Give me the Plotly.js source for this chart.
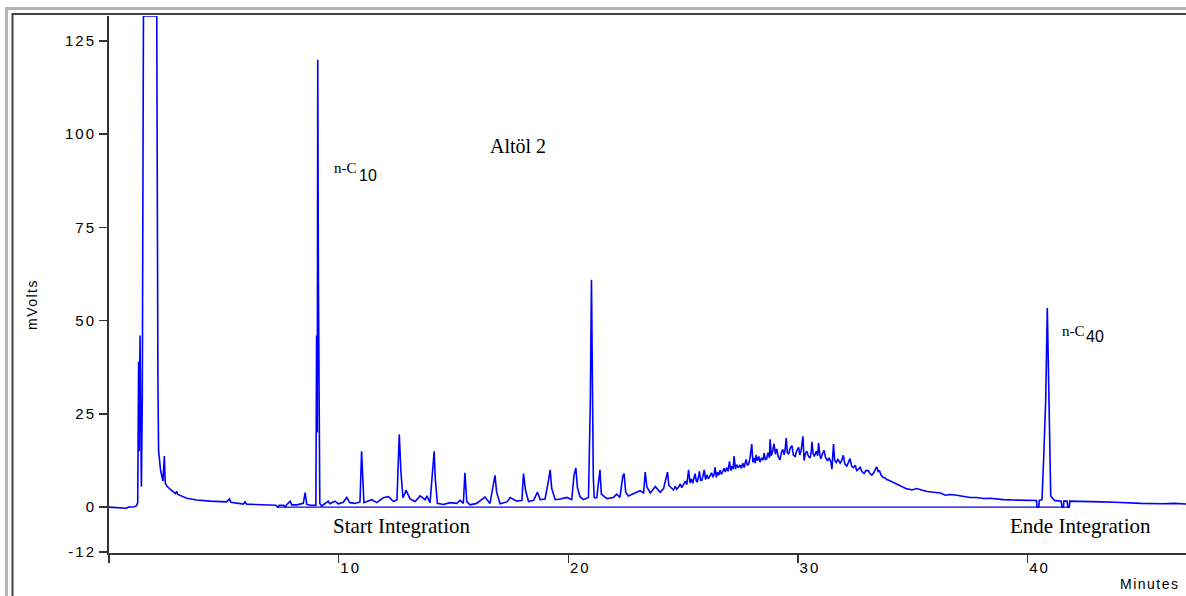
<!DOCTYPE html>
<html>
<head>
<meta charset="utf-8">
<script src="https://cdn.plot.ly/plotly-3.0.1.min.js"></script>
<style>
  html, body { margin: 0; padding: 0; background: #ffffff; }
  #chart { width: 1186px; height: 596px; }
  .xtick text, .ytick text { letter-spacing: 2px; }
</style>
</head>
<body>
<div id="chart"></div>
<script>
// ---- Data: [retention time (min), signal (mV)] ----
const solventRegion = [
  [0.00,0.0],[0.30,-0.1],[0.50,-0.35],[0.75,-0.3],[0.85,0.0],[1.10,0.1],[1.20,0.4],[1.25,1.2],
  [1.29,39],[1.31,15],[1.35,46],[1.38,29],[1.41,5.5],[1.45,29],[1.50,131.7],[2.08,131.7],
  [2.10,39],[2.13,34],[2.16,15],[2.25,9.7],[2.35,7.0],[2.41,13.7],[2.45,6.5],[2.51,5.7],
  [2.66,4.8],[2.90,3.6],[2.95,4.2],[3.00,3.4],[3.38,2.4],[3.82,1.9],[4.40,1.6],[5.12,1.4],
  [5.25,2.2],[5.31,1.3],[5.85,0.8],[5.92,1.4],[6.00,0.8],[6.73,0.6],[7.26,0.5],[7.36,0.0],
  [7.41,0.5],[7.61,0.5],[7.68,0.0],[7.72,0.5],[7.89,1.6],[7.96,0.6],[8.18,0.6],[8.46,1.0],
  [8.54,3.9],[8.61,0.8],[8.76,0.5],[9.01,0.5],[9.04,46],[9.07,20],[9.09,120],[9.12,60],
  [9.15,30],[9.18,1.0],[9.26,0.3]
];
const lightRegion = [
  [9.55,1.6],[9.61,0.9],[9.84,1.6],[9.99,0.9],[10.20,1.3],[10.35,2.6],[10.49,1.2],[10.71,1.0],
  [10.93,1.4],[11.00,15],[11.05,7.5],[11.10,1.2],[11.44,2.0],[11.66,1.2],[11.94,2.5],[12.17,2.8],
  [12.39,1.5],[12.54,2.0],[12.64,19.5],[12.71,9.7],[12.80,2.5],[12.94,4.5],[13.11,2.2],[13.33,1.5],
  [13.55,3.0],[13.77,2.0],[13.84,3.0],[13.98,1.2],[14.16,15],[14.21,7.5],[14.30,1.0],[14.56,0.7],
  [14.85,1.2],[15.14,1.0],[15.29,1.8],[15.43,1.0],[15.50,9.2],[15.58,1.5],[15.72,0.6],[16.01,1.0],
  [16.37,2.7],[16.59,1.0],[16.81,8.5],[16.88,4.0],[17.03,0.9],[17.33,1.4],[17.47,2.6],[17.76,1.6],
  [17.98,1.8],[18.05,9.0],[18.14,4.5],[18.27,1.5],[18.49,1.8],[18.66,4.0],[18.78,2.0],[18.99,2.2],
  [19.14,7.2],[19.21,10.0],[19.28,5.0],[19.43,2.0],[19.65,2.2],[19.94,2.6],[20.15,2.0],[20.25,8.5],
  [20.33,10.5],[20.40,5.2],[20.51,2.8],[20.66,2.0],[20.88,2.6],[20.96,28],[21.01,61],[21.05,31],
  [21.09,8],[21.13,2.5],[21.24,2.5],[21.38,10.0],[21.44,3.5],[21.68,2.3],[21.96,2.6],[22.11,3.5],
  [22.25,2.6],[22.37,8.2],[22.43,9.0],[22.50,4.0],[22.62,3.0],[22.83,3.6],[23.13,4.4],[23.28,3.8],
  [23.35,9.4],[23.42,5.5],[23.57,3.8],[23.79,5.5],[24.00,4.0],[24.15,5.0],[24.32,9.4],[24.38,5.8]
];
const humpRegion = [
  [24.58,4.6],[24.66,5.6],[24.72,4.8],[24.80,5.4],[24.88,6.2],[24.94,5.2],[25.02,6.0],[25.10,7.0],
  [25.16,6.0],[25.19,8.5],[25.24,10.0],[25.30,6.5],[25.36,7.6],[25.42,6.4],[25.48,8.0],[25.52,9.0],
  [25.58,6.9],[25.62,6.8],[25.68,8.4],[25.71,9.6],[25.76,7.2],[25.82,7.2],[25.88,8.8],[25.92,10.0],
  [25.98,7.4],[26.04,8.6],[26.10,7.6],[26.18,8.5],[26.24,9.2],[26.30,8.0],[26.36,9.0],[26.39,10.7],
  [26.45,8.0],[26.50,9.4],[26.56,8.6],[26.61,9.9],[26.67,8.8],[26.72,9.5],[26.78,10.4],[26.84,9.4],
  [26.90,10.6],[26.96,9.6],[27.02,12.3],[27.08,9.8],[27.14,11.0],[27.18,10.2],[27.22,13.7],[27.28,10.2],
  [27.34,11.4],[27.40,10.6],[27.48,11.3],[27.54,10.4],[27.60,11.8],[27.66,10.6],[27.74,12.8],[27.80,11.2],
  [27.86,11.6],[27.92,13.4],[27.99,16.9],[28.04,12.0],[28.10,13.2],[28.14,11.8],[28.18,14.0],[28.24,12.4],
  [28.30,13.6],[28.35,12.1],[28.42,13.2],[28.48,12.6],[28.53,14.5],[28.58,12.8],[28.64,13.0],[28.70,14.6],
  [28.76,13.2],[28.79,18.2],[28.84,13.8],[28.90,15.0],[28.96,17.0],[29.02,14.2],[29.08,15.6],[29.14,13.6],
  [29.22,12.7],[29.28,14.6],[29.34,15.5],[29.40,14.0],[29.44,15.2],[29.49,18.5],[29.54,14.6],[29.60,14.2],
  [29.66,15.8],[29.74,16.5],[29.80,14.0],[29.88,13.5],[29.94,15.0],[30.03,16.0],[30.08,14.0],[30.14,15.2],
  [30.22,19.0],[30.27,12.5],[30.32,14.2],[30.39,15.0],[30.46,13.6],[30.53,13.2],[30.58,14.8],[30.61,17.5],
  [30.66,14.4],[30.71,13.6],[30.76,14.6],[30.80,15.0],[30.86,13.8],[30.90,17.2],[30.96,13.8],[31.00,13.0],
  [31.06,14.2],[31.14,15.2],[31.20,13.4],[31.29,12.4],[31.36,13.2],[31.44,12.0],[31.48,10.2],[31.55,16.9],
  [31.60,12.6],[31.67,12.0],[31.74,12.8],[31.84,11.8],[31.90,12.4],[31.98,13.9],[32.04,11.6],[32.13,11.0],
  [32.20,12.0],[32.27,13.0],[32.34,11.0],[32.42,10.6],[32.50,11.2],[32.56,9.8],[32.64,10.2],[32.71,10.8],
  [32.78,9.6],[32.88,9.0],[32.96,9.8],[33.07,9.8],[33.14,9.0],[33.22,8.6],[33.30,9.2],[33.43,10.8],
  [33.50,9.4],[33.55,9.8],[33.62,8.6],[33.70,8.0],[33.80,7.8],[33.87,7.4],[33.96,7.2],[34.09,6.8],
  [34.20,6.6],[34.31,6.2],[34.42,5.8],[34.52,5.4],[34.62,5.2],[34.74,4.9],[34.86,4.8],[34.96,4.6]
];
const heavyRegion = [
  [35.17,5.0],[35.39,4.6],[35.62,4.2],[35.91,4.0],[36.20,3.8],[36.42,3.2],[36.63,3.4],[36.92,3.2],
  [37.21,2.8],[37.50,2.6],[37.79,2.6],[38.08,2.3],[38.37,2.4],[38.66,2.2],[38.95,2.0],[39.39,1.9],
  [39.97,1.8],[40.39,1.8],[40.41,0.0],[40.49,0.0],[40.51,1.8],[40.63,2.0],[40.71,14.4],[40.79,28.6],
  [40.86,53.4],[40.91,37.3],[40.97,19.6],[41.01,3.0],[41.17,1.8],[41.46,1.6],[41.50,0.0],[41.56,0.0],
  [41.58,1.6],[41.72,1.6],[41.76,0.0],[41.82,0.0],[41.84,1.6],[42.06,1.6],[42.64,1.5],[43.22,1.4],
  [43.80,1.3],[44.38,1.1],[44.96,1.0],[45.83,0.9],[46.41,1.0],[46.96,0.8]
];

// integration baseline (start / end events, minutes) drawn at 0 mV
const integrationTimes = [7.30, 41.77];
const integrationLevel = [0, 0];

// axis ticks
const xTickVals = [0, 10, 20, 30, 40];
const xTickText = ['', '10', '20', '30', '40'];
const yTickVals = [-12, 0, 25, 50, 75, 100, 125];
const yTickText = ['-12', '0', '25', '50', '75', '100', '125'];

// labels
const sampleName = 'Altöl 2';
const startLabel = 'Start Integration';
const endLabel = 'Ende Integration';
const peakLabels = [
  {t: 10.28, v: 90.9, prefix: 'n-C', sub: '10', subT: 11.26, subV: 89.0},
  {t: 42.01, v: 47.2, prefix: 'n-C', sub: '40', subT: 42.94, subV: 45.8}
];

// ---- assemble series ----
const allSamples = solventRegion.concat(lightRegion, humpRegion, heavyRegion);
const timeMin = allSamples.map(p => p[0]);
const signalMV = allSamples.map(p => p[1]);

// ---- layout helpers (pixel -> paper) ----
const W = 1186, H = 596, ML = 109, MT = 16, MB = 43;
const px = x => (x - ML) / (W - ML);
const py = y => (H - MB - y) / (H - MB - MT);

const serif = 'Liberation Serif, Times New Roman, serif';
const sans = 'Liberation Sans, Arial, sans-serif';

const traces = [
  {
    x: integrationTimes, y: integrationLevel, type: 'scatter', mode: 'lines',
    line: {color: '#0000ff', width: 1.2}, hoverinfo: 'skip', showlegend: false
  },
  {
    x: timeMin, y: signalMV, type: 'scatter', mode: 'lines',
    line: {color: '#0000ff', width: 1.6, shape: 'linear'}, showlegend: false
  }
];

const annotations = [
  {x: 17.83, y: 96.8, text: sampleName, showarrow: false, font: {family: serif, size: 20, color: '#000'}},
  {x: 12.78, y: -5.15, text: startLabel, showarrow: false, font: {family: serif, size: 21, color: '#000'}},
  {x: 42.31, y: -5.15, text: endLabel, showarrow: false, font: {family: serif, size: 21, color: '#000'}},
  {xref: 'paper', yref: 'paper', x: px(1182), y: py(584), xanchor: 'right', yanchor: 'middle',
   text: '<span style="letter-spacing:1.5px">Minutes</span>', showarrow: false, font: {family: sans, size: 14, color: '#000'}},
  {xref: 'paper', yref: 'paper', x: px(32), y: py(305), xanchor: 'center', yanchor: 'middle', textangle: -90,
   text: '<span style="letter-spacing:1.5px">mVolts</span>', showarrow: false, font: {family: sans, size: 14, color: '#000'}}
];
peakLabels.forEach(p => {
  annotations.push({x: p.t, y: p.v, text: p.prefix, showarrow: false, font: {family: serif, size: 15, color: '#000'}});
  annotations.push({x: p.subT, y: p.subV, text: p.sub, showarrow: false, font: {family: sans, size: 16, color: '#000'}});
});

const frameShapes = [
  {type: 'line', xref: 'paper', yref: 'paper', x0: px(5), x1: px(1186), y0: py(8.5), y1: py(8.5), line: {color: '#b4b4b4', width: 3}},
  {type: 'line', xref: 'paper', yref: 'paper', x0: px(6.5), x1: px(6.5), y0: py(7), y1: py(596), line: {color: '#b4b4b4', width: 3}},
  {type: 'line', xref: 'paper', yref: 'paper', x0: px(12), x1: px(1186), y0: py(14), y1: py(14), line: {color: '#404040', width: 2}},
  {type: 'line', xref: 'paper', yref: 'paper', x0: px(12.5), x1: px(12.5), y0: py(13), y1: py(596), line: {color: '#404040', width: 2}}
];

const layout = {
  width: W, height: H,
  margin: {l: ML, r: 0, t: MT, b: MB, pad: 0},
  paper_bgcolor: '#ffffff', plot_bgcolor: '#ffffff',
  showlegend: false,
  xaxis: {
    range: [0, 46.9], showgrid: false, zeroline: false,
    showline: true, linecolor: '#333333', linewidth: 2,
    ticks: 'outside', ticklen: 8, tickwidth: 1.5, tickcolor: '#333333',
    tickvals: xTickVals, ticktext: xTickText, ticklabelshift: 12, ticklabelstandoff: -8,
    tickfont: {family: sans, size: 15, color: '#000'}
  },
  yaxis: {
    range: [-12.3, 131.7], showgrid: false, zeroline: false,
    showline: true, linecolor: '#333333', linewidth: 2,
    ticks: 'outside', ticklen: 8, tickwidth: 1.5, tickcolor: '#333333',
    tickvals: yTickVals, ticktext: yTickText,
    tickfont: {family: sans, size: 15, color: '#000'}
  },
  annotations: annotations,
  shapes: frameShapes
};

Plotly.newPlot('chart', traces, layout, {staticPlot: true, displayModeBar: false});
</script>
</body>
</html>
